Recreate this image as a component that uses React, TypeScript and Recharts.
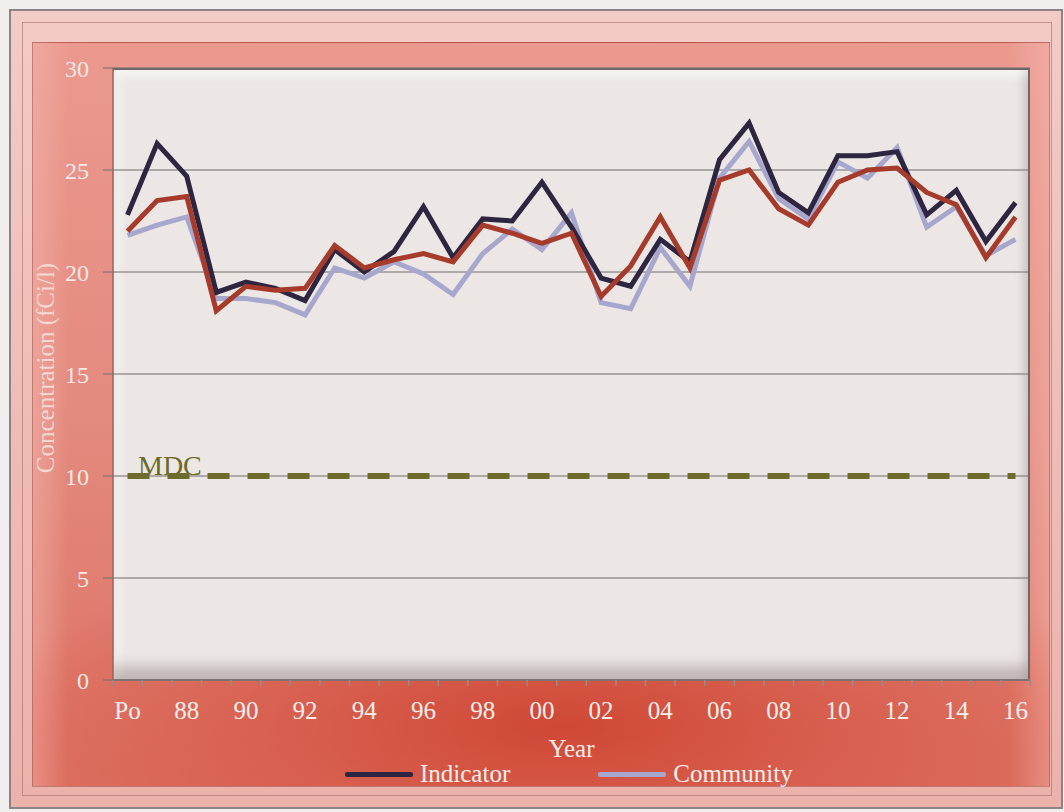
import React from 'react';
import { LineChart, Line, XAxis, YAxis, CartesianGrid, ReferenceLine, Legend, Label } from 'recharts';

const years = ["Po","87","88","89","90","91","92","93","94","95","96","97","98","99","00","01","02","03","04","05","06","07","08","09","10","11","12","13","14","15","16"];
const indicator = [22.8, 26.3, 24.7, 19.0, 19.5, 19.2, 18.6, 21.1, 20.0, 21.0, 23.2, 20.7, 22.6, 22.5, 24.4, 22.2, 19.7, 19.3, 21.6, 20.5, 25.5, 27.3, 23.9, 22.9, 25.7, 25.7, 25.9, 22.8, 24.0, 21.5, 23.4];
const community = [21.8, 22.3, 22.7, 18.7, 18.7, 18.5, 17.9, 20.2, 19.7, 20.5, 19.9, 18.9, 20.9, 22.1, 21.1, 22.9, 18.5, 18.2, 21.2, 19.3, 24.6, 26.4, 23.6, 22.6, 25.4, 24.6, 26.1, 22.2, 23.2, 20.8, 21.6];
const average = [22.0, 23.5, 23.7, 18.1, 19.3, 19.1, 19.2, 21.3, 20.2, 20.6, 20.9, 20.5, 22.3, 21.9, 21.4, 21.9, 18.8, 20.3, 22.7, 20.2, 24.5, 25.0, 23.1, 22.3, 24.4, 25.0, 25.1, 23.9, 23.3, 20.7, 22.7];
const yTicks = [0, 5, 10, 15, 20, 25, 30];
const legendOrder = ["Indicator", "Community"];
const mdcLevel = 10;

const data = years.map((y, i) => ({ year: y, indicator: indicator[i], community: community[i], average: average[i] }));

const FONT = '"Liberation Serif", "DejaVu Serif", serif';
const TEXT = '#fbefec';
const W = 1064;
const H = 812;
const M = { top: 68, right: 34, bottom: 0, left: 0 };
const Y_W = 113;
const PAD = 14.5;
const PLOT_W = W - Y_W - M.right;
const STEP = (PLOT_W - 2 * PAD) / (years.length - 1);

function XTick(props: any) {
  const { x, y, payload, index } = props;
  const i = payload && payload.index !== undefined ? payload.index : index;
  const h = STEP / 2;
  return (
    <g>
      <line x1={x - h} x2={x - h} y1={y} y2={y + 6} stroke="#9c8a88" strokeWidth={1.5} />
      {i === years.length - 1 && <line x1={x + h} x2={x + h} y1={y} y2={y + 6} stroke="#9c8a88" strokeWidth={1.5} />}
      {i % 2 === 0 && (
        <text x={x} y={y + 39} textAnchor="middle" fill={TEXT} fontSize={25} fontFamily={FONT}>
          {payload.value}
        </text>
      )}
    </g>
  );
}

function YearLabel(props: any) {
  const vb = props.viewBox || { x: 113, y: 680, width: 917 };
  return (
    <text x={vb.x + vb.width / 2} y={vb.y + 77} textAnchor="middle" fill={TEXT} fontSize={25} fontFamily={FONT}>
      Year
    </text>
  );
}

function YTitle(props: any) {
  const vb = props.viewBox || { x: 0, y: 68 };
  const cx = vb.x + 45;
  const cy = vb.y + 300;
  return (
    <text x={cx} y={cy} transform={`rotate(-90 ${cx} ${cy})`} textAnchor="middle" dominantBaseline="central" fill="#f6d8d1" fontSize={25} fontFamily={FONT}>
      Concentration (fCi/l)
    </text>
  );
}

function MdcLabel(props: any) {
  const vb = props.viewBox || { x: 113, y: 476 };
  return (
    <text x={vb.x + 25} y={vb.y - 1} fill="#6b6a28" fontSize={28} fontFamily={FONT}>
      MDC
    </text>
  );
}

function LegendContent(props: any) {
  const items = legendOrder
    .map((name) => (props.payload || []).find((p: any) => p.value === name))
    .filter(Boolean);
  return (
    <div style={{ display: 'flex', alignItems: 'center', paddingLeft: 345, height: 28 }}>
      {items.map((p: any, k: number) => (
        <div key={p.value} style={{ display: 'flex', alignItems: 'center', marginRight: k === 0 ? 88 : 0 }}>
          <span style={{ display: 'inline-block', width: 68, height: 5, background: p.color, borderRadius: 2, marginRight: 7 }} />
          <span style={{ color: TEXT, fontSize: 25, fontFamily: FONT, lineHeight: '28px' }}>{p.value}</span>
        </div>
      ))}
    </div>
  );
}

export default function App() {
  return (
    <div style={{ position: 'absolute', left: 0, top: 0, width: W, height: H, background: '#f3eeee', overflow: 'hidden' }}>
      <div style={{ position: 'absolute', left: 9, top: 9, width: 1054, height: 800, boxSizing: 'border-box', border: '2px solid #8d8288', background: 'linear-gradient(180deg, #f3cbc5 0%, #efbdb5 50%, #ebb2aa 100%)' }} />
      <div style={{ position: 'absolute', left: 22, top: 22, width: 1030, height: 774, boxSizing: 'border-box', border: '1px solid rgba(160,100,100,0.55)' }} />
      <div
        style={{
          position: 'absolute', left: 32, top: 42, width: 1018, height: 745, boxSizing: 'border-box',
          border: '1px solid rgba(150,80,75,0.5)',
          background:
            'radial-gradient(ellipse 58% 26% at 52% 92%, rgba(206,66,48,0.9) 0%, rgba(212,80,62,0.55) 50%, rgba(214,90,75,0) 100%),' +
            'linear-gradient(90deg, rgba(244,184,176,0.5) 0%, rgba(244,184,176,0) 3.5%, rgba(244,184,176,0) 96%, rgba(244,184,176,0.55) 100%),' +
            'linear-gradient(180deg, #eb998f 0%, #e48a7f 50%, #dc7162 100%)',
        }}
      />
      <div
        style={{
          position: 'absolute', left: 113, top: 68, width: 917, height: 612, boxSizing: 'border-box',
          background: '#ece7e5',
          borderTop: '2px solid #6e6868', borderRight: '2px solid #6e6868',
          boxShadow:
            'inset 0 -18px 14px -4px rgba(120,105,102,0.38), inset 12px 0 10px -6px rgba(255,255,255,0.7), inset 0 12px 10px -6px rgba(255,255,255,0.6), inset -10px 0 10px -6px rgba(150,140,138,0.3)',
        }}
      />
      <div style={{ position: 'absolute', left: 0, top: 0 }}>
        <LineChart width={W} height={H} data={data} margin={M}>
          <CartesianGrid vertical={false} stroke="#6f6a6a" strokeWidth={1} />
          <XAxis
            dataKey="year"
            interval={0}
            height={132}
            padding={{ left: PAD, right: PAD }}
            tickSize={0}
            tickMargin={0}
            tickLine={false}
            axisLine={{ stroke: '#7d7373', strokeWidth: 2 }}
            tick={<XTick />}
          >
            <Label content={<YearLabel />} />
          </XAxis>
          <YAxis
            width={Y_W}
            domain={[0, 30]}
            ticks={yTicks}
            interval={0}
            tickSize={10}
            tickMargin={14}
            tickLine={{ stroke: '#7b6b6b' }}
            axisLine={{ stroke: '#9b625c', strokeWidth: 1.5 }}
            tick={{ fill: '#f8e9e5', fontSize: 24, fontFamily: FONT }}
          >
            <Label content={<YTitle />} />
          </YAxis>
          <ReferenceLine y={mdcLevel} stroke="none" label={<MdcLabel />} />
          <ReferenceLine
            segment={[{ x: years[0], y: mdcLevel }, { x: years[years.length - 1], y: mdcLevel }]}
            stroke="#6d6c2c"
            strokeWidth={6}
            strokeDasharray="22 18"
          />
          <Line type="linear" dataKey="community" name="Community" stroke="#a7a6cd" strokeWidth={5} dot={false} isAnimationActive={false} />
          <Line type="linear" dataKey="indicator" name="Indicator" stroke="#2e2541" strokeWidth={5} dot={false} isAnimationActive={false} />
          <Line type="linear" dataKey="average" name="Average" stroke="#a63a2b" strokeWidth={5} dot={false} legendType="none" isAnimationActive={false} />
          <Legend
            layout="horizontal"
            verticalAlign="middle"
            align="center"
            content={<LegendContent />}
            wrapperStyle={{ left: 0, top: 760, width: W, height: 28 }}
          />
        </LineChart>
      </div>
    </div>
  );
}
